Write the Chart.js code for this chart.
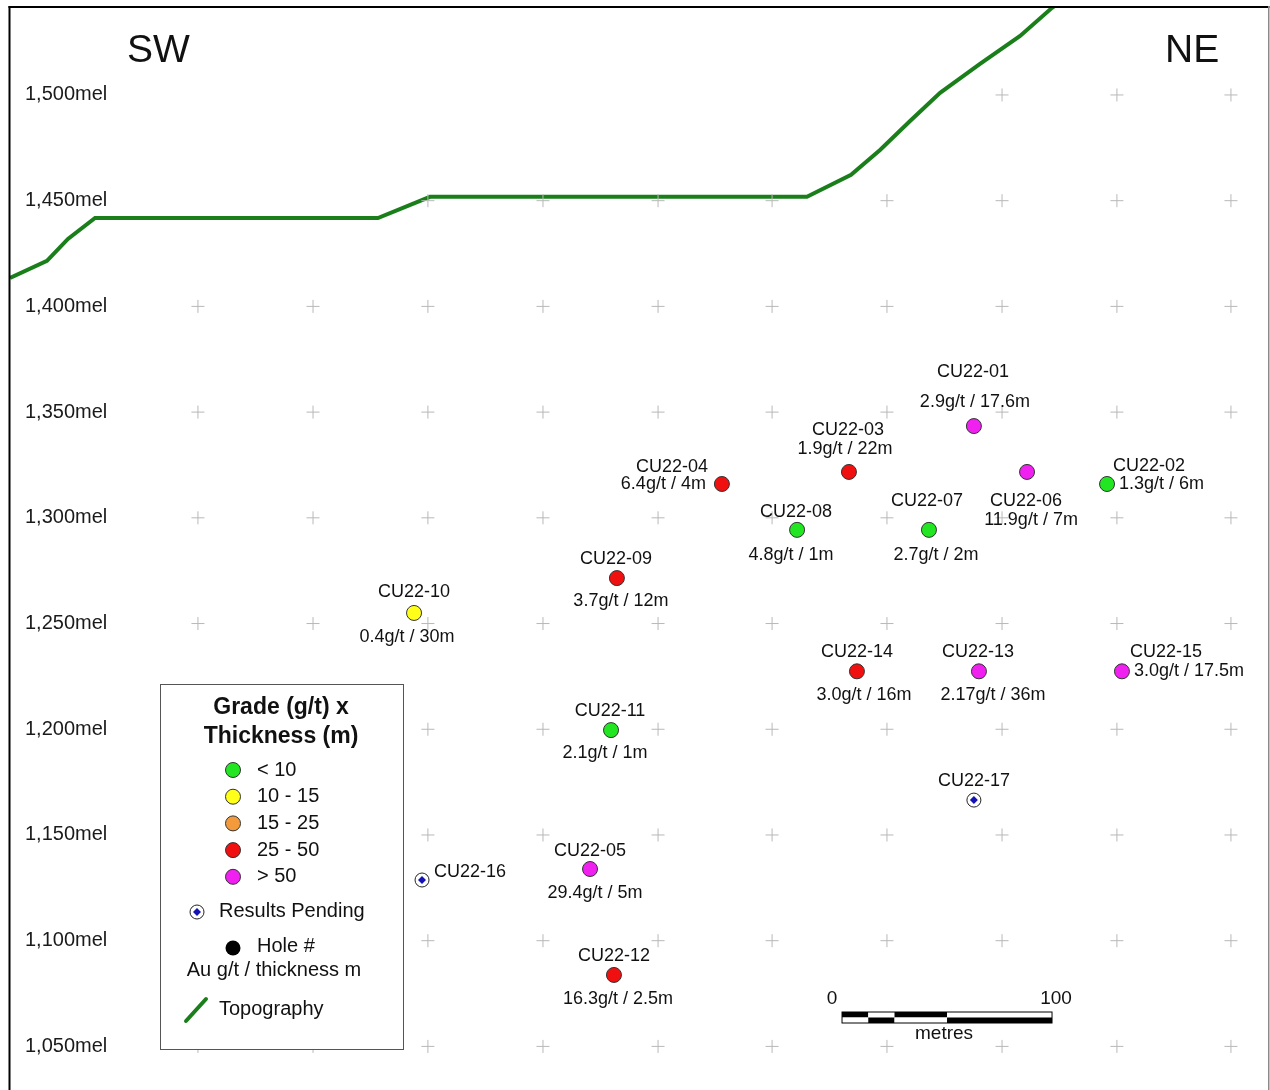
<!DOCTYPE html>
<html><head><meta charset="utf-8">
<script src="https://cdn.jsdelivr.net/npm/chart.js@4.4.1/dist/chart.umd.min.js"></script>
<style>html,body{margin:0;padding:0;background:#fff;overflow:hidden}canvas{display:block}</style>
</head><body>
<canvas id="c" width="1270" height="1090"></canvas>
<script>
// ---- Data (x = metres along section, y = elevation mel) ----
const holeIds   = ['CU22-01','CU22-02','CU22-03','CU22-04','CU22-05','CU22-06','CU22-07','CU22-08','CU22-09','CU22-10','CU22-11','CU22-12','CU22-13','CU22-14','CU22-15'];
const holeX     = [459.0, 522.4, 399.5, 339.0, 276.2, 484.3, 437.6, 374.8, 289.0, 192.4, 286.2, 287.6, 461.4, 403.3, 529.5];
const holeElev  = [1343.4, 1316.0, 1321.7, 1316.0, 1133.9, 1321.7, 1294.3, 1294.3, 1271.5, 1255.0, 1199.6, 1083.8, 1227.4, 1227.4, 1227.4];
const grades    = [2.9, 1.3, 1.9, 6.4, 29.4, 11.9, 2.7, 4.8, 3.7, 0.4, 2.1, 16.3, 2.17, 3.0, 3.0];
const thickness = [17.6, 6, 22, 4, 5, 7, 2, 1, 12, 30, 1, 2.5, 36, 16, 17.5];

const pendingIds  = ['CU22-16','CU22-17'];
const pendingX    = [196.2, 459.0];
const pendingElev = [1128.7, 1166.5];

const topoX    = [0, 17.6, 27.6, 40.5, 175.2, 200.0, 379.5, 400.5, 414.3, 428.6, 442.9, 461.9, 481.0, 496.2, 500.0];
const topoElev = [1413.5, 1421.5, 1431.9, 1441.8, 1441.8, 1451.8, 1451.8, 1462.2, 1474.0, 1487.7, 1501.0, 1514.7, 1527.9, 1541.2, 1544.0];

const elevTicks = [1050, 1100, 1150, 1200, 1250, 1300, 1350, 1400, 1450, 1500];
const gridX     = [89.5, 144.3, 199.0, 253.8, 308.6, 362.9, 417.6, 472.4, 527.1, 581.4];

const classLabels = ['< 10', '10 - 15', '15 - 25', '25 - 50', '> 50'];
const classBreaks = [10, 15, 25, 50];
const classColors = ['#22e622', '#ffff1a', '#f39a3d', '#f01010', '#f020f0'];

const scaleBarOrigin = 396.2;        // metres along section where scale bar starts
const scaleBarStops  = [0, 12.5, 25, 50, 100];

// ---- Label layout (style only) ----
const labelLayout = {
  'CU22-01': {name: [-1, -54, 'center'], value: [1, -24, 'center']},
  'CU22-02': {name: [6, -18, 'left'],    value: [12, 0, 'left']},
  'CU22-03': {name: [-1, -42, 'center'], value: [-4, -23, 'center']},
  'CU22-04': {name: [-50, -17, 'center'],value: [-16, 0, 'right']},
  'CU22-05': {name: [0, -18, 'center'],  value: [5, 24, 'center']},
  'CU22-06': {name: [-1, 29, 'center'],  value: [4, 48, 'center']},
  'CU22-07': {name: [-2, -29, 'center'], value: [7, 25, 'center']},
  'CU22-08': {name: [-1, -18, 'center'], value: [-6, 25, 'center']},
  'CU22-09': {name: [-1, -19, 'center'], value: [4, 23, 'center']},
  'CU22-10': {name: [0, -21, 'center'],  value: [-7, 24, 'center']},
  'CU22-11': {name: [-1, -19, 'center'], value: [-6, 23, 'center']},
  'CU22-12': {name: [0, -19, 'center'],  value: [4, 24, 'center']},
  'CU22-13': {name: [-1, -19, 'center'], value: [14, 24, 'center']},
  'CU22-14': {name: [0, -19, 'center'],  value: [7, 24, 'center']},
  'CU22-15': {name: [8, -19, 'left'],    value: [12, 0, 'left']},
  'CU22-16': {name: [12, -8, 'left']},
  'CU22-17': {name: [0, -19, 'center']}
};

const FONT = '"Liberation Sans", Arial, Helvetica, sans-serif';

function classIndex(gt) {
  let k = 0;
  while (k < classBreaks.length && gt >= classBreaks[k]) k++;
  return k;
}
function fmtGrade(g) { return (g % 1 === 0) ? g.toFixed(1) : String(g); }
function topoAt(x) {
  for (let i = 0; i < topoX.length - 1; i++) {
    if (x >= topoX[i] && x <= topoX[i + 1]) {
      const t = (x - topoX[i]) / (topoX[i + 1] - topoX[i]);
      return topoElev[i] + t * (topoElev[i + 1] - topoElev[i]);
    }
  }
  return x < topoX[0] ? topoElev[0] : Infinity;
}

// grid crosses below topography
const crossPts = [];
gridX.forEach(x => elevTicks.forEach(y => { if (y < topoAt(x)) crossPts.push({x, y}); }));

const holePts = holeX.map((x, i) => ({x, y: holeElev[i]}));
const holeCols = holeIds.map((_, i) => classColors[classIndex(grades[i] * thickness[i])]);
const pendPts = pendingX.map((x, i) => ({x, y: pendingElev[i]}));
const topoPts = topoX.map((x, i) => ({x, y: topoElev[i]}));

function drawPending(ctx, x, y) {
  ctx.save();
  ctx.beginPath(); ctx.arc(x, y, 7, 0, Math.PI * 2);
  ctx.fillStyle = '#fff'; ctx.fill(); ctx.lineWidth = 1; ctx.strokeStyle = '#222'; ctx.stroke();
  ctx.beginPath(); ctx.moveTo(x, y - 4); ctx.lineTo(x + 4, y); ctx.lineTo(x, y + 4); ctx.lineTo(x - 4, y); ctx.closePath();
  ctx.fillStyle = '#1414b4'; ctx.fill();
  ctx.restore();
}

const overlay = {
  id: 'overlay',
  afterDatasetsDraw(chart) {
    const ctx = chart.ctx;
    const xs = chart.scales.x;
    ctx.save();
    ctx.fillStyle = '#111';
    ctx.textBaseline = 'middle';
    // hole labels
    const drawLabels = (dsIndex, ids, valueFn) => {
      chart.getDatasetMeta(dsIndex).data.forEach((pt, i) => {
        const L = labelLayout[ids[i]];
        ctx.font = '18px ' + FONT;
        ctx.textAlign = L.name[2];
        ctx.fillText(ids[i], pt.x + L.name[0], pt.y + L.name[1]);
        if (valueFn && L.value) {
          ctx.textAlign = L.value[2];
          ctx.fillText(valueFn(i), pt.x + L.value[0], pt.y + L.value[1]);
        }
      });
    };
    drawLabels(2, holeIds, i => fmtGrade(grades[i]) + 'g/t / ' + thickness[i] + 'm');
    drawLabels(3, pendingIds, null);
    // pending symbols
    chart.getDatasetMeta(3).data.forEach(pt => drawPending(ctx, pt.x, pt.y));

    // direction labels
    ctx.font = '39px ' + FONT;
    ctx.textAlign = 'left';
    ctx.fillText('SW', 127, 51);
    ctx.fillText('NE', 1165, 51);

    // legend box
    ctx.fillStyle = '#fff';
    ctx.fillRect(160, 684, 243, 365);
    ctx.strokeStyle = '#555'; ctx.lineWidth = 1;
    ctx.strokeRect(160.5, 684.5, 243, 365);
    ctx.fillStyle = '#111';
    ctx.font = 'bold 23px ' + FONT;
    ctx.textAlign = 'center';
    ctx.fillText('Grade (g/t) x', 281, 708);
    ctx.fillText('Thickness (m)', 281, 737);
    ctx.font = '20px ' + FONT;
    classLabels.forEach((lab, k) => {
      const y = 770 + k * 26.7;
      ctx.beginPath(); ctx.arc(233, y, 7.5, 0, Math.PI * 2);
      ctx.fillStyle = classColors[k]; ctx.fill();
      ctx.strokeStyle = '#333'; ctx.lineWidth = 1; ctx.stroke();
      ctx.fillStyle = '#111'; ctx.textAlign = 'left';
      ctx.fillText(lab, 257, y);
    });
    drawPending(ctx, 197, 912);
    ctx.fillStyle = '#111'; ctx.textAlign = 'left';
    ctx.fillText('Results Pending', 219, 911);
    ctx.beginPath(); ctx.arc(233, 948, 7.5, 0, Math.PI * 2); ctx.fillStyle = '#000'; ctx.fill();
    ctx.fillStyle = '#111';
    ctx.fillText('Hole #', 257, 946);
    ctx.textAlign = 'center';
    ctx.fillText('Au g/t / thickness m', 274, 970);
    ctx.strokeStyle = '#1a7f1a'; ctx.lineWidth = 4; ctx.lineCap = 'round';
    ctx.beginPath(); ctx.moveTo(186, 1021); ctx.lineTo(206, 999); ctx.stroke();
    ctx.lineCap = 'butt';
    ctx.textAlign = 'left';
    ctx.fillText('Topography', 219, 1009);

    // scale bar
    const top = 1012, mid = 1017.5, bot = 1023;
    for (let k = 0; k < scaleBarStops.length - 1; k++) {
      const a = xs.getPixelForValue(scaleBarOrigin + scaleBarStops[k]);
      const b = xs.getPixelForValue(scaleBarOrigin + scaleBarStops[k + 1]);
      ctx.fillStyle = (k % 2 === 0) ? '#000' : '#fff';
      ctx.fillRect(a, top, b - a, mid - top);
      ctx.fillStyle = (k % 2 === 0) ? '#fff' : '#000';
      ctx.fillRect(a, mid, b - a, bot - mid);
    }
    const x0 = xs.getPixelForValue(scaleBarOrigin);
    const x1 = xs.getPixelForValue(scaleBarOrigin + scaleBarStops[scaleBarStops.length - 1]);
    ctx.strokeStyle = '#000'; ctx.lineWidth = 1;
    ctx.strokeRect(x0, top, x1 - x0, bot - top);
    ctx.fillStyle = '#111';
    ctx.font = '19px ' + FONT; ctx.textAlign = 'center';
    ctx.fillText('0', x0 - 10, 999);
    ctx.fillText('100', x1 + 4, 999);
    ctx.fillText('metres', (x0 + x1) / 2 - 3, 1034);

    // frame
    ctx.fillStyle = '#000';
    ctx.fillRect(8.5, 6, 2, 1084);
    ctx.fillRect(8.5, 6, 1261, 2);
    ctx.fillStyle = '#8a8a8a';
    ctx.fillRect(1268, 6, 1.5, 1084);
    ctx.restore();
  }
};

new Chart(document.getElementById('c'), {
  type: 'scatter',
  data: {
    datasets: [
      { label: 'grid', data: crossPts, pointStyle: 'cross', pointRadius: 6.5, borderColor: '#b8b8b8', borderWidth: 1, backgroundColor: '#b8b8b8' },
      { label: 'Topography', data: topoPts, showLine: true, borderColor: '#1a7f1a', borderWidth: 4, pointRadius: 0, fill: false, tension: 0 },
      { label: 'Holes', data: holePts, pointRadius: 7.5, backgroundColor: holeCols, borderColor: '#333', borderWidth: 1 },
      { label: 'Pending', data: pendPts, pointRadius: 0 }
    ]
  },
  options: {
    responsive: false,
    animation: false,
    events: [],
    layout: { autoPadding: false, padding: { left: 0, right: 3, top: 7, bottom: 3 } },
    plugins: { legend: { display: false }, tooltip: { enabled: false } },
    scales: {
      x: { type: 'linear', min: 0, max: 598.57, display: false },
      y: {
        type: 'linear', position: 'left', min: 1030.8, max: 1541.6,
        afterBuildTicks: s => { s.ticks = elevTicks.map(v => ({value: v})); },
        afterFit: s => { s.width = 10; s.paddingTop = 0; s.paddingBottom = 0; },
        grid: { display: false, drawTicks: false },
        border: { display: false },
        ticks: {
          mirror: true, padding: 15, color: '#1a1a1a', autoSkip: false,
          font: { size: 20, family: FONT },
          callback: v => v.toLocaleString('en-US') + 'mel'
        }
      }
    }
  },
  plugins: [overlay]
});
</script>
</body></html>
